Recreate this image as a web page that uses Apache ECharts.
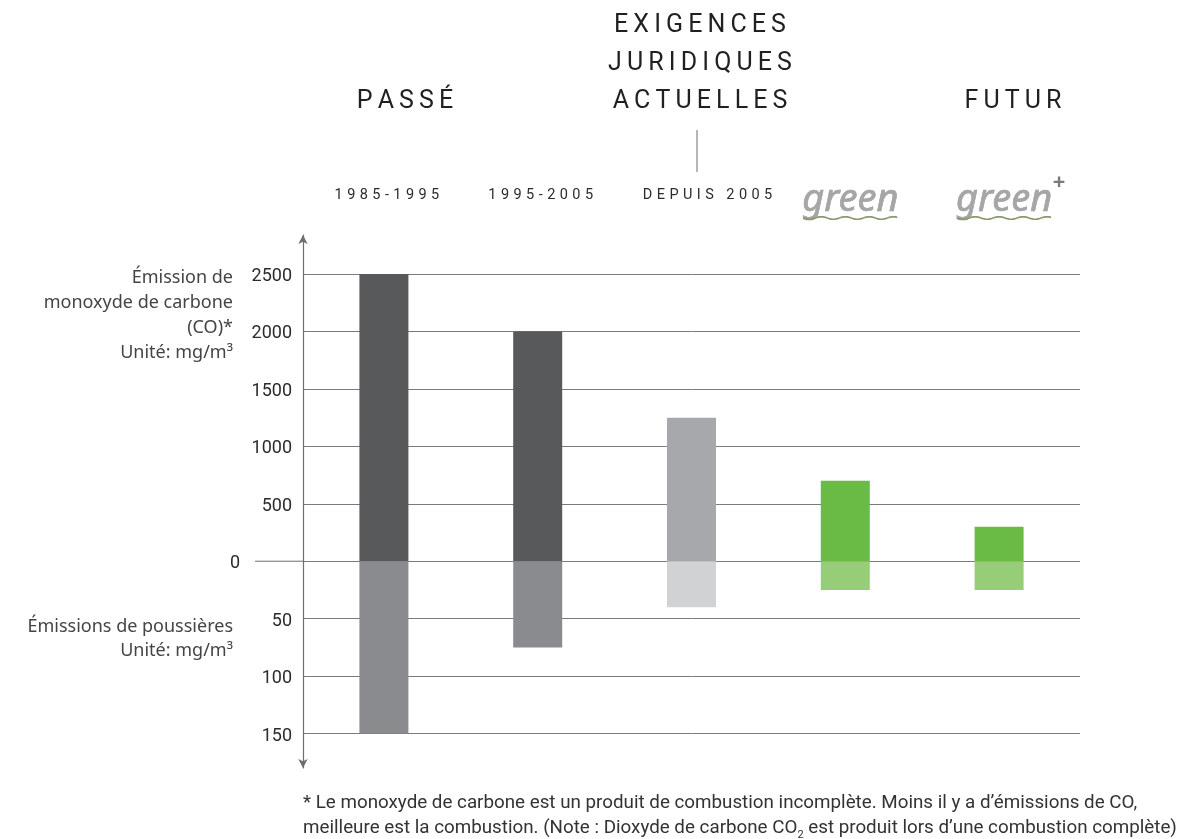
<!DOCTYPE html>
<html><head><meta charset="utf-8">
<script src="https://cdn.jsdelivr.net/npm/echarts@6/dist/echarts.min.js"></script>
<style>html,body{margin:0;padding:0;background:#fff}#chart{width:1192px;height:839px}</style>
</head><body><div id="chart"></div>
<script>
// Emission periods / stove classes
const categories = ['1985-1995', '1995-2005', 'DEPUIS 2005', 'green', 'green+'];
// Carbon monoxide emissions (mg/m³), drawn above zero
const coValues = [2500, 2000, 1250, 700, 300];
// Dust emissions (mg/m³), drawn below zero
const dustValues = [150, 75, 40, 25, 25];
// Tick labels of the two half-scales
const coTicks = [0, 500, 1000, 1500, 2000, 2500];
const dustTicks = [50, 100, 150];
// One dust unit occupies the height of ten CO units
const DUST_SCALE = 10;

const coColors = ['#58595b', '#58595b', '#a7a8ab', '#6abb45', '#6abb45'];
const dustColors = ['#8a8b8e', '#8a8b8e', '#d1d2d4', '#98cd78', '#98cd78'];

const Y_MIN = -1800, Y_MAX = 2840;
const tickValues = coTicks.concat(dustTicks.map(v => -v * DUST_SCALE));

function spaced(s, gap) {
  return s.split(' ').map(w => w.split('').join(gap)).join(gap + ' ' + gap);
}

const chart = echarts.init(document.getElementById('chart'));
chart.setOption({
  animation: false,
  grid: [
    { left: 303, right: 112, top: 235, bottom: 71 },
    { left: 307, right: 116, top: 235, bottom: 71 }
  ],
  xAxis: [
    { gridIndex: 0, type: 'value', min: 0, max: 1, show: false },
    { gridIndex: 1, type: 'category', data: categories, show: false }
  ],
  yAxis: [
    {
      gridIndex: 0, type: 'value', min: Y_MIN, max: Y_MAX,
      axisLine: { show: true, symbol: ['arrow', 'arrow'], symbolSize: [7, 9],
        lineStyle: { color: '#6d6e71', width: 1.2 } },
      axisTick: { show: false, customValues: tickValues },
      axisLabel: {
        customValues: tickValues, margin: 11, padding: [5, 0, 0, 0],
        color: '#2b2b2b', fontFamily: 'Roboto', fontSize: 18,
        formatter: v => v === 0 ? '{z|0}' : String(v < 0 ? -v / DUST_SCALE : v),
        rich: { z: { fontFamily: 'Roboto', fontSize: 18, color: '#2b2b2b', padding: [0, 52, 0, 0] } }
      },
      splitLine: { show: true, lineStyle: { color: '#7a7b7e', width: 1 } }
    },
    { gridIndex: 1, type: 'value', min: Y_MIN, max: Y_MAX, show: false }
  ],
  series: [
    {
      name: 'CO', type: 'bar', xAxisIndex: 1, yAxisIndex: 1, barWidth: 49, barGap: '-100%',
      data: coValues.map((v, i) => ({ value: v, itemStyle: { color: coColors[i] } }))
    },
    {
      name: 'Poussières', type: 'bar', xAxisIndex: 1, yAxisIndex: 1, barWidth: 49, barGap: '-100%',
      data: dustValues.map((v, i) => ({ value: -v * DUST_SCALE, itemStyle: { color: dustColors[i] } }))
    }
  ]
});

// Decorations positioned from the axes
const y0 = chart.convertToPixel({ yAxisIndex: 0 }, 0);
const cx = categories.map((c, i) => chart.convertToPixel({ xAxisIndex: 1 }, i));
const headFont = 'Roboto';
const graphics = [];

// Extended zero line
graphics.push({ type: 'line', shape: { x1: 255, y1: y0, x2: 303, y2: y0 },
  style: { stroke: '#6d6e71', lineWidth: 1 }, z: 5 });

// Section headers
function head(text, x, y) {
  graphics.push({ type: 'text', x: x, y: y, style: { text: spaced(text, '\u2009'),
    align: 'center', verticalAlign: 'middle', font: '25px ' + headFont, fill: '#231f20' } });
}
head('PASSÉ', 405, 102);
head('EXIGENCES', 700, 26);
head('JURIDIQUES', 700, 64);
head('ACTUELLES', 700, 102);
head('FUTUR', 1013, 102);
graphics.push({ type: 'line', shape: { x1: 697, y1: 130, x2: 697, y2: 172 },
  style: { stroke: '#9d9ea1', lineWidth: 1.5 } });

// Period labels above the bars
const labelShift = [3, 3, 16, 0, 0];
for (let i = 0; i < 3; i++) {
  graphics.push({ type: 'text', x: cx[i] + labelShift[i], y: 195, style: {
    text: spaced(categories[i], '\u2009\u200a'), align: 'center', verticalAlign: 'middle',
    font: '14.5px Roboto', fill: '#2b2b2b' } });
}
// "green" marks with wavy underline
function wave(xa, xb, y) {
  const pts = [];
  for (let x = xa; x <= xb; x += 2) pts.push([x, y + 1.3 * Math.sin((x - xa) / 24 * 2 * Math.PI)]);
  return pts;
}
for (let i = 3; i < 5; i++) {
  const x = cx[i] + 5;
  graphics.push({ type: 'text', x: x, y: 200, style: {
    text: 'green', align: 'center', verticalAlign: 'middle',
    font: 'italic 38px "Noto Sans"', fill: '#a6a6a6', stroke: '#8f8f8f', lineWidth: 0.6 } });
  graphics.push({ type: 'polyline', shape: { points: wave(x - 47, x + 47, 218) },
    style: { stroke: '#8a9a6f', lineWidth: 1.6, fill: null } });
  if (categories[i].endsWith('+')) {
    graphics.push({ type: 'text', x: x + 55, y: 183, style: {
      text: '+', align: 'center', verticalAlign: 'middle',
      font: 'bold 22px "Noto Sans"', fill: '#7a7a7a' } });
  }
}

// Axis titles
graphics.push({ type: 'text', x: 233, y: 315, style: {
  text: 'Émission de\nmonoxyde de carbone\n(CO)*\nUnité: mg/m³', align: 'right', verticalAlign: 'middle',
  font: '18px "Noto Sans"', lineHeight: 25, fill: '#444' } });
graphics.push({ type: 'text', x: 233, y: 639, style: {
  text: 'Émissions de poussières\nUnité: mg/m³', align: 'right', verticalAlign: 'middle',
  font: '18px "Noto Sans"', lineHeight: 24, fill: '#444' } });

// Footnote
graphics.push({ type: 'text', x: 303, y: 803, style: {
  text: '* Le monoxyde de carbone est un produit de combustion incomplète. Moins il y a d\u2019émissions de CO,',
  align: 'left', verticalAlign: 'middle', font: '18.8px Roboto', fill: '#333' } });
graphics.push({ type: 'text', x: 303, y: 828, style: {
  text: 'meilleure est la combustion. (Note : Dioxyde de carbone CO{sub|2} est produit lors d\u2019une combustion complète)',
  align: 'left', verticalAlign: 'middle', font: '18.8px Roboto', fill: '#333',
  rich: { sub: { fontSize: 11, fontFamily: 'Roboto', fill: '#333', padding: [14, 0, 0, 0] } } } });

chart.setOption({ graphic: graphics });
</script></body></html>
